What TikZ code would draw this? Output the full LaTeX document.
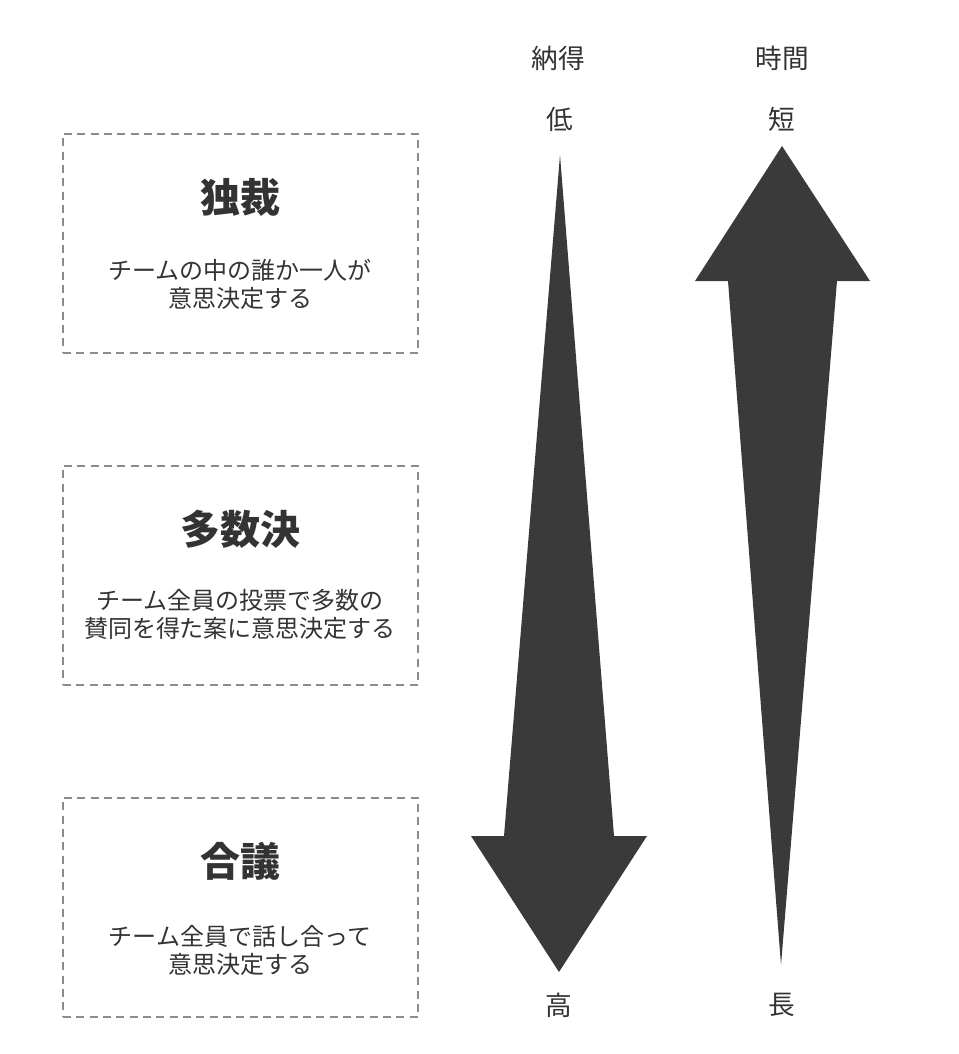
\documentclass[tikz,border=0pt]{standalone}
\usepackage{fontspec}
\setmainfont{Noto Sans CJK JP}
\usepackage{tikz}
\usetikzlibrary{positioning, calc}
\usepackage{xcolor}
\definecolor{inkgray}{RGB}{58,58,58}
\definecolor{txtgray}{RGB}{51,51,51}
\definecolor{dashgray}{RGB}{140,140,140}

\begin{document}
\begin{tikzpicture}[x=0.75pt, y=-0.75pt,
  methodbox/.style={rectangle, draw=dashgray, line width=1pt, dash pattern=on 6pt off 4pt, minimum width=266.25pt, minimum height=164.25pt, inner sep=0pt},
  title/.style={font=\fontsize{30}{34}\selectfont\bfseries, text=txtgray, inner sep=0pt},
  desc/.style={font=\fontsize{18}{21}\selectfont, text=txtgray, align=center, inner sep=0pt},
  axislabel/.style={font=\fontsize{20}{24}\selectfont, text=txtgray, inner sep=0pt},
  bigarrow/.style={fill=inkgray, draw=none},
]
  \useasboundingbox (0,0) rectangle (958,1054);

  % method boxes
  \node[methodbox] (dict) at (240.5,243.5) {};
  \node[methodbox] (vote) at (240.5,575.5) {};
  \node[methodbox] (cons) at (240.5,907.5) {};

  \node[title] (dictT) at (240,197) {独裁};
  \node[desc] (dictD) at (240,284) {チームの中の誰か一人が\\意思決定する};
  \node[title] (voteT) at (240,529) {多数決};
  \node[desc] (voteD) at (240,614) {チーム全員の投票で多数の\\賛同を得た案に意思決定する};
  \node[title] (consT) at (240,861) {合議};
  \node[desc] (consD) at (240,950) {チーム全員で話し合って\\意思決定する};

  % axis labels
  \node[axislabel] (agree) at (558,58) {納得};
  \node[axislabel] (agreeLo) at (560,119) {低};
  \node[axislabel] (agreeHi) at (559,1005) {高};
  \node[axislabel] (time) at (782,58) {時間};
  \node[axislabel] (timeLo) at (782,119) {短};
  \node[axislabel] (timeHi) at (782,1005) {長};

  % arrows
  \fill[bigarrow] (560,155) -- (614,836) -- (647,836) -- (559,972) -- (471,836) -- (504,836) -- cycle;
  \fill[bigarrow] (782,146) -- (870,281) -- (837,281) -- (781,965) -- (728,281) -- (695,281) -- cycle;
\end{tikzpicture}
\end{document}
